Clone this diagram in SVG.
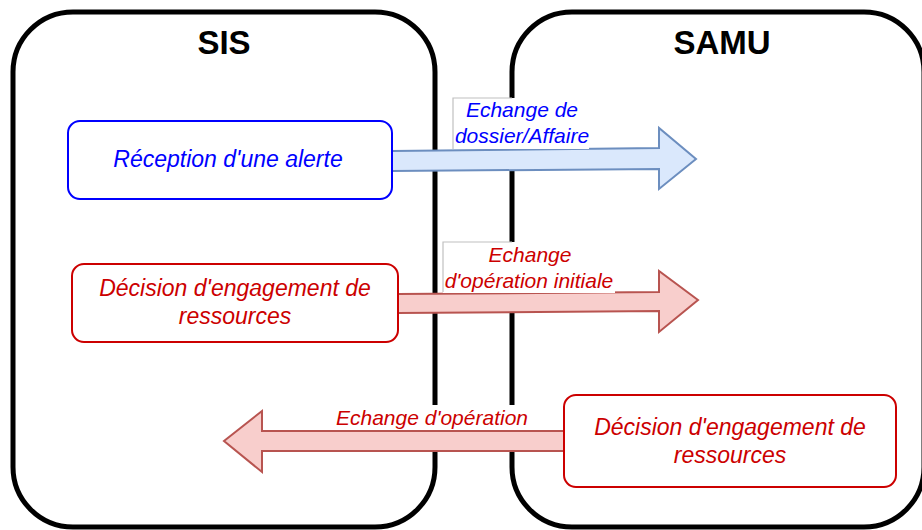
<svg xmlns="http://www.w3.org/2000/svg" width="922" height="530" viewBox="0 0 922 530">
<style>
.cont{fill:#ffffff;stroke:#000000;stroke-width:5}
.title{font-family:"Liberation Sans",Arial,sans-serif;font-weight:bold;font-size:33px;fill:#000000;text-anchor:middle}
.nodeBlue{fill:#ffffff;stroke:#0000ff;stroke-width:2}
.nodeRed{fill:#ffffff;stroke:#cc0000;stroke-width:2}
.txt{font-family:"Liberation Sans",Arial,sans-serif;font-style:italic;font-size:23px;text-anchor:middle}
.lbl{font-family:"Liberation Sans",Arial,sans-serif;font-style:italic;font-size:21px;text-anchor:middle}
.blue{fill:#0000ff}
.red{fill:#cc0000}
.arrBlue{fill:#dae8fc;stroke:#6c8ebf;stroke-width:2;stroke-linejoin:miter}
.arrRed{fill:#f8cecc;stroke:#b85450;stroke-width:2;stroke-linejoin:miter}
.lblbg{fill:#ffffff;stroke:none}
.lblborder{fill:none;stroke:#c0c0c0;stroke-width:1.2}
</style>
<g id="SIS">
<rect class="cont" x="13" y="12" width="422" height="515" rx="60" ry="60"/>
<text class="title" x="224" y="54">SIS</text>
</g>
<g id="SAMU">
<rect class="cont" x="512" y="12" width="412" height="515" rx="60" ry="60"/>
<text class="title" x="722" y="54">SAMU</text>
</g>
<g id="connectors">
<g id="arrow-dossier">
<polygon class="arrBlue" points="392,151 659,148 659,128 696,159 659,189 659,169 392,171"/>
<rect class="lblbg" x="453" y="98" width="136" height="51"/>
<polyline class="lblborder" points="453,149 453,98 512,98"/>
<text class="lbl blue" x="522" y="117">Echange de</text>
<text class="lbl blue" x="522" y="143">dossier/Affaire</text>
</g>
<g id="arrow-operation-initiale">
<polygon class="arrRed" points="398,294 659,292 659,271 698,300 659,332 659,311 398,313"/>
<rect class="lblbg" x="443" y="242" width="172" height="51"/>
<polyline class="lblborder" points="443,292 443,242 512,242"/>
<text class="lbl red" x="530" y="262">Echange</text>
<text class="lbl red" x="529" y="288">d'opération initiale</text>
</g>
<g id="arrow-operation">
<polygon class="arrRed" points="564,431 262,431 262,411 224,441 262,472 262,451 564,451"/>
<rect class="lblbg" x="335" y="405" width="198" height="25"/>
<text class="lbl red" x="432" y="425">Echange d'opération</text>
</g>
</g>
<g id="node-reception">
<rect class="nodeBlue" x="68" y="121" width="324" height="78" rx="12" ry="12"/>
<text class="txt blue" x="228" y="167">Réception d'une alerte</text>
</g>
<g id="node-decision-sis">
<rect class="nodeRed" x="72" y="264" width="326" height="78" rx="12" ry="12"/>
<text class="txt red" x="235" y="296">Décision d'engagement de</text>
<text class="txt red" x="235" y="324">ressources</text>
</g>
<g id="node-decision-samu">
<rect class="nodeRed" x="564" y="395" width="332" height="92" rx="12" ry="12"/>
<text class="txt red" x="730" y="435">Décision d'engagement de</text>
<text class="txt red" x="730" y="463">ressources</text>
</g>
</svg>
